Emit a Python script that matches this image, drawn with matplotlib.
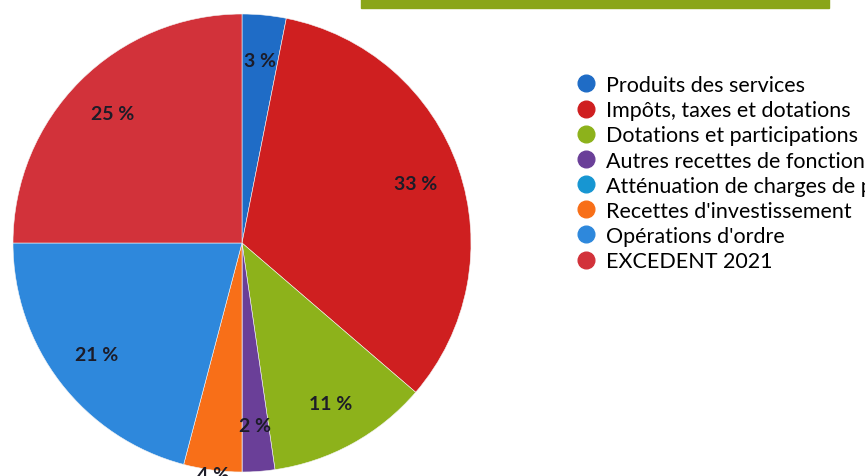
import matplotlib.pyplot as plt
from matplotlib.lines import Line2D
from matplotlib.patches import Rectangle
import numpy as np

# répartition des recettes (en %)
categories = ["Produits des services", "Impôts, taxes et dotations",
              "Dotations et participations", "Autres recettes de fonctionnement",
              "Atténuation de charges de personnel", "Recettes d'investissement",
              "Opérations d'ordre", "EXCEDENT 2021"]
values = [3.1, 33.2, 11.4, 2.3, 0.0, 4.1, 20.9, 25.0]
colors = ['#1f6cc6', '#cf1f20', '#8db21b', '#6a3f98',
          '#1796d2', '#f86f18', '#2e88dc', '#d2323a']

plt.rcParams['font.family'] = ['Lato', 'DejaVu Sans']

W, H = 865, 477
fig = plt.figure(figsize=(W / 100, H / 100), dpi=100)

# bandeau vert du titre (coupé en haut)
fig.patches.append(Rectangle((361 / W, 1 - 9 / H), (829 - 361) / W, 12 / H,
                             transform=fig.transFigure, color='#8aa519', zorder=0))

cx, cy, r = 242, 244, 229
lim = 1.01
side = 2 * r * lim
ax = fig.add_axes([(cx - r * lim) / W, (H - cy - r * lim) / H, side / W, side / H])

def fmt(p):
    return '%d %%' % round(p) if p >= 1 else ''

wedges, texts, autotexts = ax.pie(values, colors=colors, startangle=90, counterclock=False,
                                  autopct=fmt, pctdistance=0.8, radius=1,
                                  wedgeprops=dict(linewidth=0.4, edgecolor='#f4f4f4'),
                                  textprops=dict(fontsize=14, fontweight='bold', color='#1c1c28'))
ax.set_xlim(-lim, lim)
ax.set_ylim(-lim, lim)

# étiquette 4 % placée au bord du disque
w = wedges[5]
mid = np.deg2rad((w.theta1 + w.theta2) / 2)
autotexts[5].set_position((np.cos(mid) * 1.0, np.sin(mid) * 1.0 - 0.02))

handles = [Line2D([], [], marker='o', linestyle='', markersize=12,
                  markerfacecolor=c, markeredgecolor=c) for c in colors]
fig.legend(handles, categories, loc='upper left', bbox_to_anchor=(575 / W, 1 - 76 / H),
           frameon=False, fontsize=15.5, labelspacing=0.24, handletextpad=0.44,
           handlelength=1.0, borderpad=0, borderaxespad=0)

fig.savefig('out.png', dpi=100)
